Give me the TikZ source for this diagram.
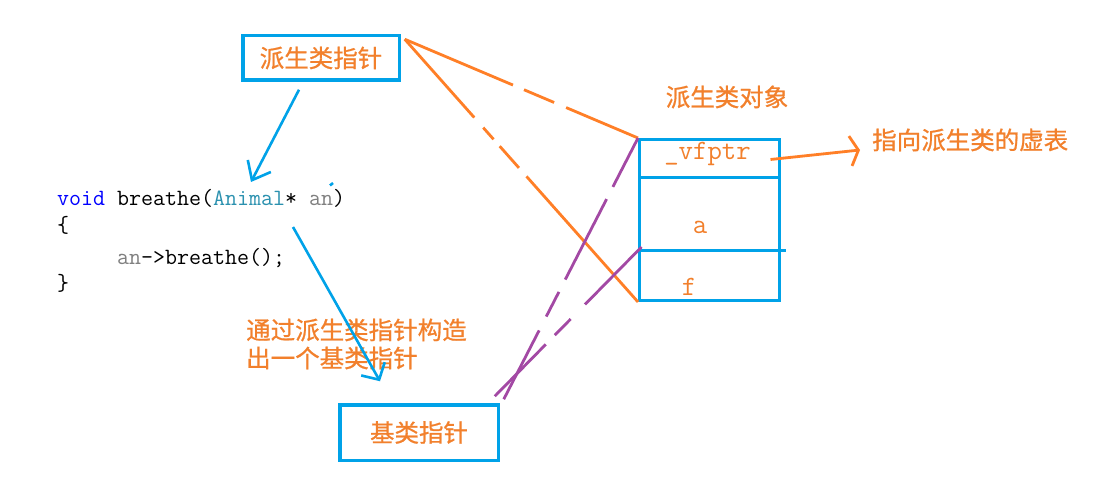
\documentclass[tikz,border=0pt]{standalone}
\usepackage{fontspec}
\newfontfamily\cjk[FakeBold=0.8]{Noto Sans CJK SC}
\usetikzlibrary{arrows.meta,calc}
\definecolor{pblue}{RGB}{0,162,232}
\definecolor{porange}{RGB}{255,127,39}
\definecolor{ptext}{RGB}{242,128,44}
\definecolor{ppurple}{RGB}{163,73,164}
\definecolor{kwblue}{RGB}{0,0,255}
\definecolor{tyteal}{RGB}{43,145,175}
\definecolor{idgray}{RGB}{128,128,128}
\begin{document}
\begin{tikzpicture}[x=1pt,y=-1pt,
  bluebox/.style={draw=pblue,line width=3.5pt,inner sep=0pt},
  cjktext/.style={text=ptext,font=\cjk\fontsize{24.5}{27}\selectfont,inner sep=0pt},
  codetext/.style={font=\ttfamily\fontsize{23.3}{28}\selectfont,inner sep=0pt,anchor=base west},
  memtext/.style={text=ptext,font=\ttfamily\fontsize{28}{30}\selectfont,inner sep=0pt,anchor=base},
  oline/.style={draw=porange,line width=2.8pt},
  pline/.style={draw=ppurple,line width=2.8pt},
  bline/.style={draw=pblue,line width=2.6pt},
]
\useasboundingbox[fill=white] (0,0) rectangle (1118,486);

% boxes
\node[bluebox,cjktext,minimum width=156.5pt,minimum height=44.5pt] (box1) at (321,58) {派生类指针};
\node[bluebox,cjktext,minimum width=158.5pt,minimum height=55.5pt] (box2) at (419,432.5) {基类指针};
\node[draw=pblue,line width=3pt,minimum width=140pt,minimum height=161pt,inner sep=0pt] (obj) at (709.5,220) {};
\draw[draw=pblue,line width=3pt] ($(obj.west)+(0,-42)$) -- ($(obj.east)+(0,-42)$);
\draw[draw=pblue,line width=3pt] ($(obj.west)+(0,31)$) -- ($(obj.east)+(5,31)$);

% member texts
\node[memtext] (vf) at (707.5,160) {\_vfptr};
\node[memtext] (ma) at (700,234) {a};
\node[memtext] (mf) at (689,295) {f};

% labels
\node[cjktext] (objlabel) at (727,97) {派生类对象};
\node[cjktext,anchor=west] (ptr) at (872,140) {指向派生类的虚表};
\node[cjktext,anchor=west] (note1) at (246,330) {通过派生类指针构造};
\node[cjktext,anchor=west] (note2) at (246,358) {出一个基类指针};

% code
\node[codetext] (c1) at (57,206) {\textcolor{kwblue}{void} breathe(\textcolor{tyteal}{Animal}* \textcolor{idgray}{an})};
\node[codetext] (c2) at (57,233) {\{};
\node[codetext] (c3) at (117,264) {\textcolor{idgray}{an}->breathe();};
\node[codetext] (c4) at (57,290) {\}};

% blue arrows
\coordinate (t1) at (251,182);
\draw[bline,-{Straight Barb[length=16pt,width=26pt]}] ($(box1.south)+(-22,7.75)$) -- (t1);
\coordinate (s2) at (293,227);
\draw[bline,-{Straight Barb[length=12.5pt,width=27pt]}] (s2) -- ($(box2.north)+(-39,-21.75)$);
\draw[bline] (330,185.5) -- (333,183);

% orange connectors
\draw[oline,dash pattern=on 117.5pt off 12pt on 32.7pt off 13pt on 100pt]
  ($(box1.north east)+(3.75,5.25)$) -- (obj.north west);
\draw[oline,dash pattern=on 104.7pt off 13.5pt on 15.6pt off 9.2pt on 29pt off 11.4pt on 200pt]
  ($(box1.north east)+(3.75,5.25)$) -- (obj.south west);

% purple connectors
\draw[pline,dash pattern=on 77.4pt off 15.6pt on 27.7pt off 13.9pt on 90.4pt off 13.8pt on 70pt]
  ($(box2.north east)+(3.75,-3.75)$) -- (obj.north west);
\draw[pline,dash pattern=on 72.8pt off 12.8pt on 22.6pt off 20.5pt on 100pt]
  ($(box2.north east)+(-5.25,-6.75)$) -- ($(obj.west)+(3.5,27)$);

% orange arrow to vtable label
\draw[oline,-{Straight Barb[length=8pt,width=30pt]}] ($(obj.north east)+(-10.5,21.5)$) -- ($(ptr.west)+(-12,10)$);
\end{tikzpicture}
\end{document}
